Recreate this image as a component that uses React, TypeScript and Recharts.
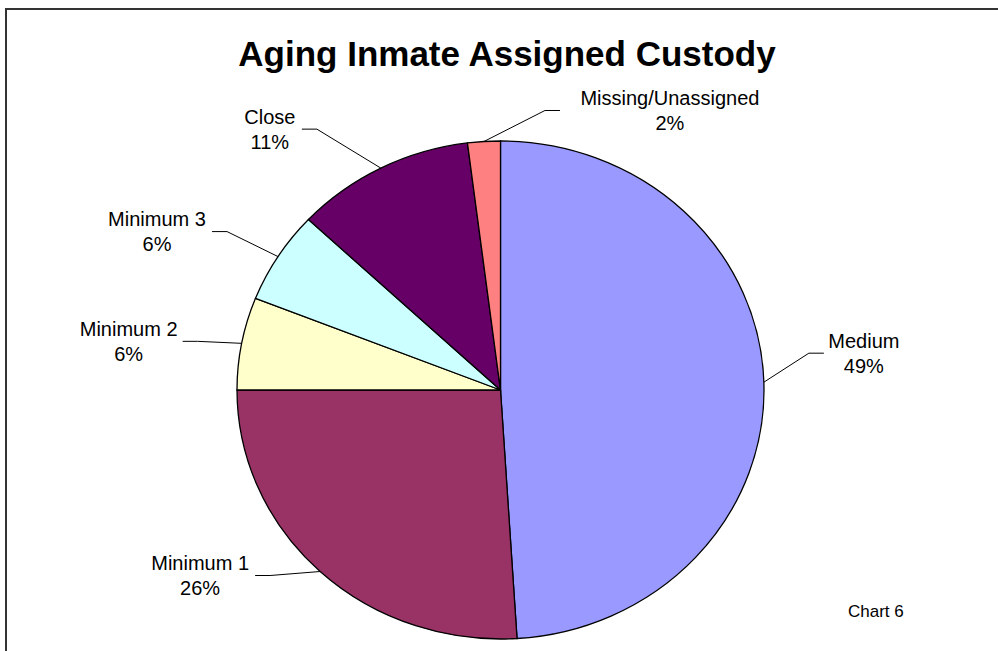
import React from 'react';
import { PieChart, Pie, Cell, Sector } from 'recharts';

const categories = ['Medium', 'Minimum 1', 'Minimum 2', 'Minimum 3', 'Close', 'Missing/Unassigned'];
const shares = [49, 26, 6, 6, 11, 2];
const sliceColors = ['#9999FF', '#993366', '#FFFFCC', '#CCFFFF', '#660066', '#FF8080'];

// label leader layout (elbow offset from slice edge, text offset from leader end)
const elbowDx = [45, -50, -44, -51, -64, 61];
const elbowDy = [-29, 4, -2, -25, -39, -31];
const textDx = [40, -55, -54, -55, -32, 110];

const data = categories.map((name, i) => ({ name, value: shares[i] }));

const W = 998;
const H = 651;
const CX = 500.5;
const CY = 390;
const RY = 249;
const SX = 263.5 / 249;
const FONT = '"Liberation Sans", Arial, Helvetica, sans-serif';

const EllipseSector = (props: any) => {
  const { cx, cy } = props;
  return (
    <g transform={`translate(${cx} ${cy}) scale(${SX} 1) translate(${-cx} ${-cy})`}>
      <Sector {...props} stroke="#000" strokeWidth={1.3} vectorEffect="non-scaling-stroke" />
    </g>
  );
};

const renderLabel = (props: any) => {
  const { cx, cy, midAngle, outerRadius, index, percent, name } = props;
  const rad = (Math.PI / 180) * midAngle;
  const ex = cx + outerRadius * Math.cos(rad) * SX;
  const ey = cy - outerRadius * Math.sin(rad);
  const bx = ex + elbowDx[index];
  const by = ey + elbowDy[index];
  const right = elbowDx[index] > 0;
  const lx = bx + (right ? 15 : -15);
  const tx = lx + textDx[index];
  return (
    <g>
      <polyline points={`${ex},${ey} ${bx},${by} ${lx},${by}`} fill="none" stroke="#000" strokeWidth={1} />
      <text x={tx} y={by - 12.5} textAnchor="middle" dominantBaseline="central" fontFamily={FONT} fontSize={20} fill="#000">
        {name}
      </text>
      <text x={tx} y={by + 12.5} textAnchor="middle" dominantBaseline="central" fontFamily={FONT} fontSize={20} fill="#000">
        {`${Math.round(percent * 100)}%`}
      </text>
    </g>
  );
};

export default function App() {
  return (
    <div style={{ position: 'absolute', left: 0, top: 0, width: W, height: H, overflow: 'hidden', background: '#fff' }}>
      <div
        style={{
          position: 'absolute',
          left: 5,
          top: 8,
          width: 1200,
          height: 900,
          border: '2px solid #333',
          boxSizing: 'border-box',
        }}
      />
      <div
        style={{
          position: 'absolute',
          left: 507 - 400,
          top: 34,
          width: 800,
          textAlign: 'center',
          fontFamily: FONT,
          fontWeight: 'bold',
          fontSize: 35,
          lineHeight: '40px',
          color: '#000',
        }}
      >
        Aging Inmate Assigned Custody
      </div>
      <div
        style={{
          position: 'absolute',
          left: 848,
          top: 602,
          fontFamily: FONT,
          fontSize: 17,
          lineHeight: '20px',
          color: '#000',
        }}
      >
        Chart 6
      </div>
      <div style={{ position: 'absolute', left: 0, top: 0 }}>
        <PieChart width={W} height={H} margin={{ top: 0, right: 0, bottom: 0, left: 0 }}>
          <Pie
            data={data}
            dataKey="value"
            nameKey="name"
            cx={CX}
            cy={CY}
            outerRadius={RY}
            startAngle={90}
            endAngle={-270}
            stroke="#000"
            isAnimationActive={false}
            label={renderLabel}
            labelLine={false}
            shape={EllipseSector}
            activeShape={EllipseSector}
            inactiveShape={EllipseSector}
          >
            {data.map((d, i) => (
              <Cell key={d.name} fill={sliceColors[i]} />
            ))}
          </Pie>
        </PieChart>
      </div>
    </div>
  );
}
